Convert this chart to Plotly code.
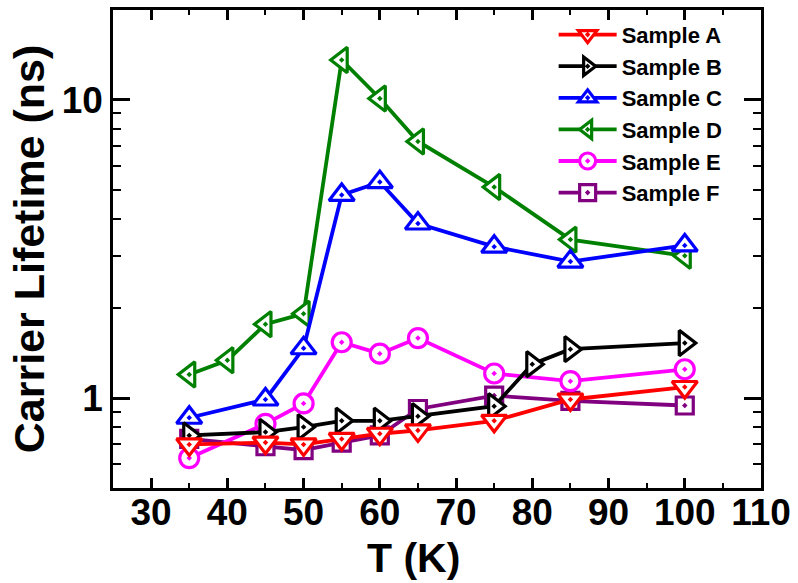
import numpy as np
import plotly.graph_objects as go

# ---- data ----
T_A = [35, 45, 50, 55, 60, 65, 75, 85, 100]
life_A = [0.70, 0.71, 0.70, 0.73, 0.76, 0.78, 0.84, 0.99, 1.09]
T_B = [35, 45, 50, 55, 60, 65, 75, 80, 85, 100]
life_B = [0.75, 0.77, 0.80, 0.84, 0.84, 0.87, 0.94, 1.30, 1.46, 1.53]
T_C = [35, 45, 50, 55, 60, 65, 75, 85, 100]
life_C = [0.86, 0.99, 1.47, 4.8, 5.3, 3.85, 3.22, 2.87, 3.25]
T_D = [35, 40, 45, 50, 55, 60, 65, 75, 85, 100]
life_D = [1.20, 1.34, 1.77, 1.92, 13.6, 10.1, 7.25, 5.1, 3.4, 3.0]
T_E = [35, 45, 50, 55, 60, 65, 75, 85, 100]
life_E = [0.63, 0.82, 0.96, 1.54, 1.41, 1.59, 1.21, 1.14, 1.25]
T_F = [35, 45, 50, 55, 60, 65, 75, 85, 100]
life_F = [0.73, 0.69, 0.67, 0.71, 0.75, 0.92, 1.02, 0.98, 0.945]

names = ["Sample A", "Sample B", "Sample C", "Sample D", "Sample E", "Sample F"]
xs = [T_A, T_B, T_C, T_D, T_E, T_F]
ys = [life_A, life_B, life_C, life_D, life_E, life_F]
colors = ["#FF0000", "#000000", "#0000FF", "#008000", "#FF00FF", "#800080"]
symbols = ["triangle-down-dot", "triangle-right-dot", "triangle-up-dot",
           "triangle-left-dot", "circle-dot", "square-dot"]
sizes = [22, 22, 22, 22, 19, 17]

x_ticks = [30, 40, 50, 60, 70, 80, 90, 100, 110]
x_minor = [25, 35, 45, 55, 65, 75, 85, 95, 105]
y_ticks = [1, 10]
y_minor = [0.5, 0.6, 0.7, 0.8, 0.9, 2, 3, 4, 5, 6, 7, 8, 9, 20]

FONT = "Liberation Sans, Arial, Helvetica, sans-serif"

fig = go.Figure()
order = [5, 4, 3, 2, 1, 0]
for i in order:
    fig.add_trace(go.Scatter(
        x=xs[i], y=ys[i], name=names[i], mode="lines+markers",
        line=dict(color=colors[i], width=3.8),
        marker=dict(symbol=symbols[i], size=sizes[i], color="white",
                    line=dict(color=colors[i], width=3.2)),
        legendrank=i + 1,
    ))

fig.update_layout(
    width=798, height=583,
    margin=dict(l=113, r=33, t=7, b=95),
    paper_bgcolor="white", plot_bgcolor="white",
    font=dict(family=FONT, color="black"),
    showlegend=True,
    legend=dict(x=0.68, y=0.992, xanchor="left", yanchor="top",
                bgcolor="rgba(0,0,0,0)", borderwidth=0,
                itemwidth=58, traceorder="normal",
                font=dict(family=FONT, size=22, color="black", weight="bold")),
    xaxis=dict(range=[25, 110], tickmode="array", tickvals=x_ticks,
               ticks="inside", ticklen=10, tickwidth=2.5, tickcolor="black",
               showline=True, linewidth=2.5, linecolor="black", mirror="ticks",
               showgrid=False, zeroline=False, ticklabelstandoff=-10,
               tickfont=dict(family=FONT, size=37, color="black", weight="bold"),
               minor=dict(tickmode="array", tickvals=x_minor, ticks="inside",
                          ticklen=5, tickwidth=2, tickcolor="black", showgrid=False)),
    yaxis=dict(type="log", range=[np.log10(0.5), np.log10(20)],
               tickmode="array", tickvals=y_ticks,
               ticks="inside", ticklen=17, tickwidth=2.5, tickcolor="black",
               showline=True, linewidth=2.5, linecolor="black", mirror="ticks",
               showgrid=False, zeroline=False,
               tickfont=dict(family=FONT, size=37, color="black", weight="bold"),
               minor=dict(tickmode="array", tickvals=y_minor, ticks="inside",
                          ticklen=8, tickwidth=2, tickcolor="black", showgrid=False),
               title=dict(text="Carrier Lifetime (ns)", standoff=4,
                          font=dict(family=FONT, size=43, color="black", weight="bold"))),
    annotations=[dict(text="T (K)", xref="paper", yref="paper", x=0.463, y=-0.146,
                      xanchor="center", yanchor="middle", showarrow=False,
                      font=dict(family=FONT, size=41, color="black", weight="bold"))],
)

fig.write_html("out.html")
